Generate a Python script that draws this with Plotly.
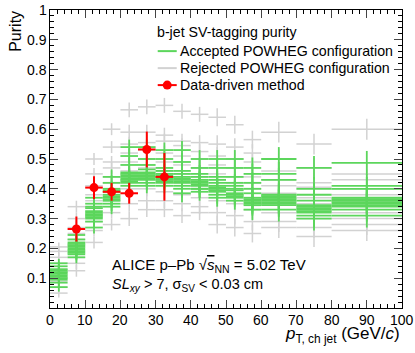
import plotly.graph_objects as go
import numpy as np

# pT bins (GeV/c)
bin_edges = [0, 5, 10, 15, 20, 25, 30, 35, 40, 45, 50, 55, 60, 70, 80, 100]

# rejected POWHEG configurations (purity per bin)
rejected = [
	[0.205, 0.34, 0.50, 0.60, 0.665, 0.675, 0.68, 0.66, 0.65, 0.64, 0.615, 0.565, 0.59, 0.55, 0.60],
	[0.19, 0.30, 0.45, 0.54, 0.59, 0.59, 0.58, 0.56, 0.555, 0.55, 0.54, 0.52, 0.50, 0.47, 0.45],
	[0.17, 0.27, 0.41, 0.49, 0.55, 0.555, 0.56, 0.545, 0.525, 0.51, 0.50, 0.49, 0.46, 0.42, 0.43],
	[0.15, 0.25, 0.38, 0.47, 0.52, 0.53, 0.52, 0.51, 0.50, 0.48, 0.47, 0.44, 0.43, 0.405, 0.38],
	[0.13, 0.23, 0.36, 0.44, 0.49, 0.50, 0.49, 0.48, 0.47, 0.45, 0.44, 0.42, 0.41, 0.37, 0.40],
	[0.12, 0.21, 0.34, 0.42, 0.46, 0.47, 0.46, 0.45, 0.44, 0.43, 0.42, 0.40, 0.385, 0.35, 0.36],
	[0.10, 0.19, 0.31, 0.39, 0.43, 0.44, 0.43, 0.42, 0.41, 0.40, 0.38, 0.36, 0.35, 0.34, 0.32],
	[0.09, 0.17, 0.29, 0.36, 0.40, 0.40, 0.39, 0.38, 0.37, 0.36, 0.35, 0.33, 0.32, 0.30, 0.30],
	[0.07, 0.15, 0.26, 0.32, 0.35, 0.36, 0.36, 0.35, 0.34, 0.32, 0.31, 0.29, 0.29, 0.27, 0.28],
	[0.05, 0.125, 0.22, 0.28, 0.30, 0.33, 0.33, 0.31, 0.32, 0.28, 0.27, 0.25, 0.27, 0.24, 0.26],
]
rejected_err = [0.015, 0.02, 0.02, 0.02, 0.025, 0.025, 0.025, 0.025, 0.025, 0.03, 0.03, 0.03, 0.035, 0.035, 0.035]

# accepted POWHEG configurations
accepted = [
	[0.15, 0.245, 0.37, 0.44, 0.54, 0.54, 0.53, 0.53, 0.50, 0.50, 0.50, 0.47, 0.50, 0.47, 0.487],
	[0.14, 0.23, 0.35, 0.42, 0.51, 0.50, 0.50, 0.49, 0.47, 0.47, 0.47, 0.45, 0.45, 0.40, 0.41],
	[0.13, 0.22, 0.34, 0.40, 0.48, 0.48, 0.47, 0.46, 0.45, 0.44, 0.44, 0.42, 0.43, 0.38, 0.40],
	[0.125, 0.215, 0.335, 0.395, 0.455, 0.465, 0.46, 0.45, 0.44, 0.43, 0.42, 0.40, 0.38, 0.36, 0.37],
	[0.12, 0.21, 0.325, 0.39, 0.45, 0.455, 0.45, 0.44, 0.43, 0.42, 0.41, 0.385, 0.375, 0.345, 0.365],
	[0.115, 0.205, 0.32, 0.38, 0.445, 0.45, 0.445, 0.435, 0.425, 0.41, 0.40, 0.37, 0.37, 0.34, 0.36],
	[0.11, 0.20, 0.315, 0.375, 0.44, 0.445, 0.44, 0.43, 0.42, 0.405, 0.395, 0.365, 0.365, 0.335, 0.355],
	[0.105, 0.195, 0.31, 0.37, 0.435, 0.44, 0.435, 0.425, 0.415, 0.40, 0.385, 0.36, 0.36, 0.33, 0.35],
	[0.10, 0.19, 0.305, 0.365, 0.43, 0.435, 0.43, 0.42, 0.41, 0.395, 0.38, 0.355, 0.355, 0.325, 0.345],
	[0.095, 0.185, 0.30, 0.36, 0.425, 0.43, 0.425, 0.41, 0.40, 0.39, 0.375, 0.35, 0.35, 0.32, 0.34],
	[0.085, 0.18, 0.29, 0.35, 0.42, 0.42, 0.42, 0.40, 0.39, 0.38, 0.37, 0.345, 0.345, 0.31, 0.33],
	[0.07, 0.17, 0.27, 0.34, 0.41, 0.41, 0.41, 0.385, 0.40, 0.37, 0.36, 0.33, 0.33, 0.30, 0.31],
]
accepted_err = [0.015, 0.02, 0.02, 0.025, 0.025, 0.025, 0.025, 0.03, 0.03, 0.03, 0.03, 0.035, 0.04, 0.04, 0.04]

# data-driven purity
data_x = [7.5, 12.5, 17.5, 22.5, 27.5, 32.5]
data_y = [0.265, 0.404, 0.39, 0.385, 0.532, 0.44]
data_err = [0.042, 0.038, 0.03, 0.035, 0.06, 0.08]
data_xerr = [2.5, 2.5, 2.5, 2.5, 2.5, 2.5]

x_tickvals = [0, 10, 20, 30, 40, 50, 60, 70, 80, 90, 100]
x_ticktext = ['0', '10', '20', '30', '40', '50', '60', '70', '80', '90', '100']
y_tickvals = [0.1, 0.2, 0.3, 0.4, 0.5, 0.6, 0.7, 0.8, 0.9, 1.0]
y_ticktext = ['0.1', '0.2', '0.3', '0.4', '0.5', '0.6', '0.7', '0.8', '0.9', '1']

GREEN = '#5cd65c'
GREY = '#d2d2d2'
RED = '#ff0000'
FONT = 'Liberation Sans, Arial, sans-serif'

edges = np.array(bin_edges, dtype=float)
centers = 0.5 * (edges[1:] + edges[:-1])
halfw = 0.5 * (edges[1:] - edges[:-1])

fig = go.Figure()

def add_config(vals, errs, color, thick):
	fig.add_trace(go.Scatter(
		x=centers, y=vals, mode='markers',
		marker=dict(size=0.1, color=color, opacity=0),
		error_x=dict(type='data', array=halfw, width=0, thickness=thick, color=color),
		error_y=dict(type='data', array=errs, width=0, thickness=thick, color=color),
		showlegend=False, hoverinfo='skip',
	))

for vals in rejected:
	add_config(vals, rejected_err, GREY, 1.5)
for vals in accepted:
	add_config(vals, accepted_err, GREEN, 1.8)

fig.add_trace(go.Scatter(
	x=data_x, y=data_y, mode='markers',
	marker=dict(size=9, color=RED),
	error_x=dict(type='data', array=data_xerr, width=0, thickness=2, color=RED),
	error_y=dict(type='data', array=data_err, width=0, thickness=2, color=RED),
	showlegend=False, hoverinfo='skip',
))

# legend drawn by hand (ROOT TLegend look)
legend_items = [
	('Accepted POWHEG configuration', GREEN, 0.862),
	('Rejected POWHEG configuration', GREY, 0.805),
	('Data-driven method', RED, 0.748),
]
shapes = []
annotations = [dict(x=29.8, y=0.926, xref='x', yref='y', text='b-jet SV-tagging purity',
	showarrow=False, xanchor='left', yanchor='middle', font=dict(size=14.2, color='black', family=FONT))]
for label, col, yy in legend_items:
	shapes.append(dict(type='line', xref='x', yref='y', x0=30.6, x1=36.0, y0=yy, y1=yy,
		line=dict(color=col, width=2)))
	if col == RED:
		shapes.append(dict(type='circle', xref='x', yref='y', xsizemode='pixel', ysizemode='pixel',
			xanchor=33.3, yanchor=yy, x0=-4.5, x1=4.5, y0=-4.5, y1=4.5,
			fillcolor=RED, line=dict(color=RED, width=0)))
	annotations.append(dict(x=36.3, y=yy, xref='x', yref='y', text=label, showarrow=False,
		xanchor='left', yanchor='middle', font=dict(size=14.2, color='black', family=FONT)))

# tick labels placed tight to the axes, as ROOT does
for v, t in zip(x_tickvals, x_ticktext):
	annotations.append(dict(x=v, y=-0.006, xref='x', yref='paper', text=t, showarrow=False,
		xanchor='center', yanchor='top', font=dict(size=14, color='black', family=FONT)))
for v, t in zip(y_tickvals, y_ticktext):
	annotations.append(dict(x=-0.002, y=v, xref='paper', yref='y', text=t, showarrow=False,
		xanchor='right', yanchor='middle', font=dict(size=14, color='black', family=FONT)))

annotations += [
	dict(x=17.0, y=0.144, xref='x', yref='y',
		text='ALICE p\u2013Pb \u221a<span style="text-decoration:overline"><i>s</i></span><sub>NN</sub> = 5.02 TeV',
		showarrow=False, xanchor='left', yanchor='middle', font=dict(size=15, color='black', family=FONT)),
	dict(x=17.0, y=0.077, xref='x', yref='y', text='<i>SL</i><sub><i>xy</i></sub> > 7, \u03c3<sub>SV</sub> < 0.03 cm',
		showarrow=False, xanchor='left', yanchor='middle', font=dict(size=14.5, color='black', family=FONT)),
	dict(x=-0.1, y=1.005, xref='paper', yref='paper', text='Purity', textangle=-90, showarrow=False,
		xanchor='center', yanchor='top', font=dict(size=16, color='black', family=FONT)),
	dict(x=1.0, y=-0.09, xref='paper', yref='paper', text='<i>p</i><sub>T, ch jet</sub> (GeV/<i>c</i>)',
		showarrow=False, xanchor='right', yanchor='middle', font=dict(size=17, color='black', family=FONT)),
]

fig.update_layout(
	width=415, height=353,
	margin=dict(l=50, r=13, t=10, b=45),
	plot_bgcolor='white', paper_bgcolor='white',
	font=dict(family=FONT, size=14, color='black'),
	shapes=shapes, annotations=annotations,
	xaxis=dict(range=[0, 100], tickvals=x_tickvals, showticklabels=False, ticks='inside', ticklen=8, tickwidth=1,
		showline=True, linecolor='black', linewidth=1, mirror='allticks', showgrid=False, zeroline=False,
		minor=dict(ticks='inside', ticklen=4, dtick=2, tick0=0, tickcolor='black', showgrid=False),
		automargin=False),
	yaxis=dict(range=[0, 1], tickvals=y_tickvals, showticklabels=False, ticks='inside', ticklen=8, tickwidth=1,
		showline=True, linecolor='black', linewidth=1, mirror='allticks', showgrid=False, zeroline=False,
		minor=dict(ticks='inside', ticklen=4, dtick=0.02, tick0=0, tickcolor='black', showgrid=False),
		automargin=False),
)

fig.write_html("out.html", config={'displayModeBar': False},
	post_script="document.body.style.margin='0px';")
